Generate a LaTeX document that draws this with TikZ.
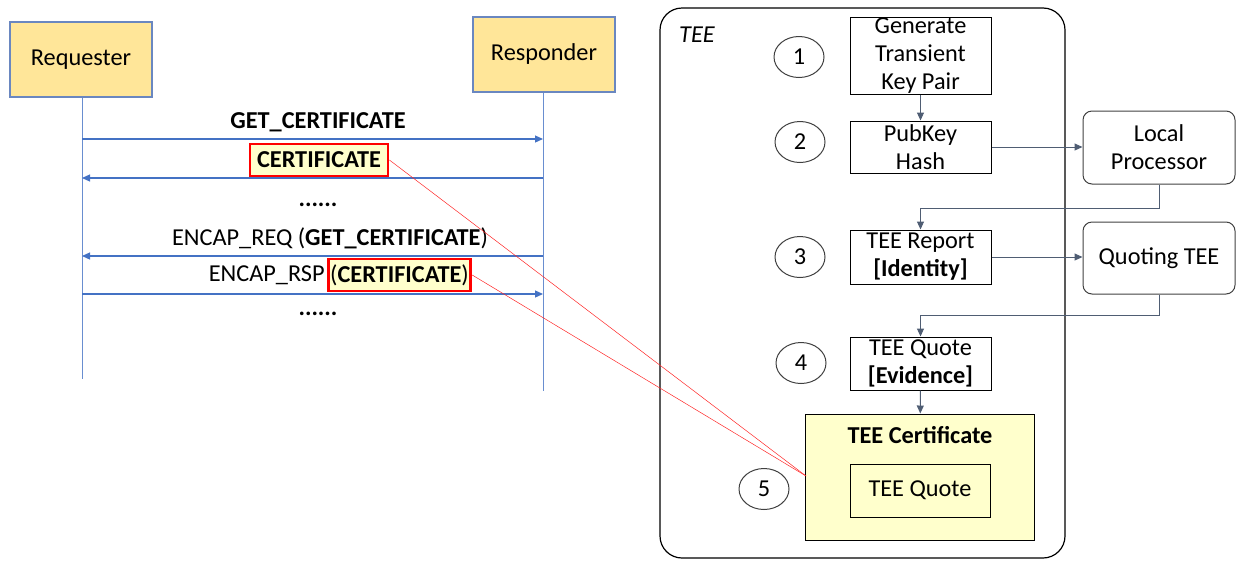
\documentclass[tikz,border=0pt]{standalone}
\usepackage{fontspec}
\setmainfont{Carlito}
\usetikzlibrary{arrows.meta,shapes.geometric}
\definecolor{actorfill}{HTML}{FFE699}
\definecolor{actorborder}{HTML}{6A87C0}
\definecolor{msgblue}{HTML}{4472C4}
\definecolor{certfill}{HTML}{FFFFCC}
\definecolor{flowgray}{HTML}{4F5D73}
\definecolor{darkline}{HTML}{404040}
\begin{document}
\begin{tikzpicture}[x=1pt,y=-1pt,
  every node/.style={font=\fontsize{24.3}{28}\selectfont},
  actor/.style={draw=actorborder, fill=actorfill, line width=1.1pt, minimum width=142pt, minimum height=75pt, inner sep=0pt},
  life/.style={draw=msgblue!80, line width=1pt},
  msg/.style={draw=msgblue, line width=1.2pt, -{Triangle[length=8pt,width=7pt]}},
  redbox/.style={draw=red, line width=2.8pt, fill=certfill, inner sep=2pt},
  redlink/.style={draw=red!85, line width=0.5pt},
  stepbox/.style={draw=black, line width=1pt, minimum width=141pt, inner sep=0pt, align=center},
  extbox/.style={draw=darkline, line width=1pt, rounded corners=9pt, minimum width=152pt, inner sep=0pt, align=center},
  num/.style={ellipse, draw=darkline, line width=1pt, minimum width=50pt, minimum height=41pt, inner sep=0pt},
  flow/.style={draw=flowgray, line width=1pt, -{Triangle[length=8pt,width=7pt]}}
]
\useasboundingbox (0,0) rectangle (1236,560);

% ---------- left: sequence ----------
\node[actor] (req) at (81,59.5) {Requester};
\node[actor] (rsp) at (544,54.5) {Responder};
\coordinate (reqend) at (82,379);
\coordinate (rspend) at (543,391);
\draw[life] (req.south -| reqend) -- (reqend);
\draw[life] (rsp.south -| rspend) -- (rspend);

\coordinate (m1a) at (82,139);  \coordinate (m1b) at (543,139);
\coordinate (m2a) at (543,178); \coordinate (m2b) at (82,178);
\coordinate (m3a) at (543,256); \coordinate (m3b) at (82,256);
\coordinate (m4a) at (82,294);  \coordinate (m4b) at (543,294);
\draw[msg] (m1a) -- (m1b);
\draw[msg] (m2a) -- (m2b);
\draw[msg] (m3a) -- (m3b);
\draw[msg] (m4a) -- (m4b);

\node (l1) at (318,122) {\textbf{GET\_CERTIFICATE}};
\node[redbox, minimum width=138pt, minimum height=32pt] (certlbl) at (319,160) {\textbf{CERTIFICATE}};
\node (dots1) at (318,205) {\textbf{......}};
\node (l3) at (330,238) {ENCAP\_REQ (\textbf{GET\_CERTIFICATE})};
\node[redbox, minimum width=137pt, minimum height=32pt] (rsplbl) at (399.5,275) {(\textbf{CERTIFICATE})};
\node[anchor=east, inner sep=2pt] (l4) at (rsplbl.west) {ENCAP\_RSP};
\node (dots2) at (318,314) {\textbf{......}};

% ---------- right: TEE ----------
\node[draw=black, line width=1.2pt, rounded corners=22pt, minimum width=405pt, minimum height=550pt, inner sep=0pt] (tee) at (862.5,283) {};
\node[font=\fontsize{24.3}{28}\selectfont\itshape] (teelbl) at (697,35) {TEE};

\node[stepbox, minimum height=77pt] (gen) at (920.5,55.5) {Generate\\Transient\\Key Pair};
\node[stepbox, minimum height=52pt] (pub) at (920.5,147) {PubKey\\Hash};
\node[stepbox, minimum height=54pt] (rep) at (920.5,257) {TEE Report\\\textbf{[Identity]}};
\node[stepbox, minimum height=53pt] (quote) at (920.5,363.5) {TEE Quote\\\textbf{[Evidence]}};

\node[draw=black, line width=1pt, fill=certfill, minimum width=229pt, minimum height=126pt, inner sep=0pt] (cert) at (920,477) {};
\node (certttl) at (920,435) {\textbf{TEE Certificate}};
\node[stepbox, minimum width=140pt, minimum height=53pt] (inq) at (920,490.5) {TEE Quote};

\node[extbox, minimum height=73pt] (lp) at (1159,147.5) {Local\\Processor};
\node[extbox, minimum height=72pt] (qt) at (1159,258) {Quoting TEE};

\node[num] (n1) at (799,57) {1};
\node[num] (n2) at (800,142) {2};
\node[num] (n3) at (800,257) {3};
\node[num] (n4) at (801,363) {4};
\node[num] (n5) at (764,489) {5};

\draw[flow] (gen) -- (pub);
\draw[flow] (pub) -- (lp.west |- pub);
\draw[flow] (lp.south) -- ++(0,24) -| (rep.north);
\draw[flow] (rep) -- (qt.west |- rep);
\draw[flow] (qt.south) -- ++(0,21) -| (quote.north);
\draw[flow] (quote) -- (cert);

% red links
\coordinate (conv) at (806,476);
\draw[redlink] (certlbl.east) -- (conv);
\draw[redlink] (rsplbl.east) -- (conv);
\end{tikzpicture}
\end{document}
